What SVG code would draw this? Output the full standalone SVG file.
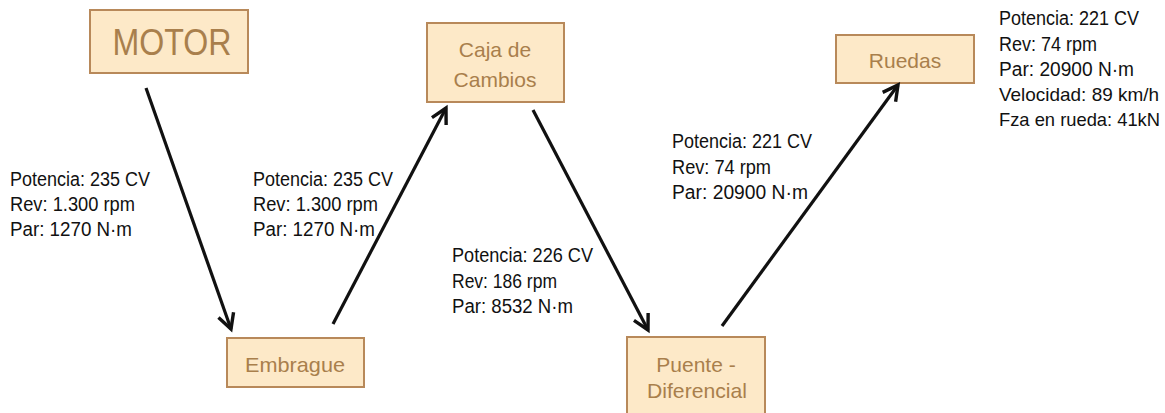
<svg xmlns="http://www.w3.org/2000/svg" width="1165" height="413" viewBox="0 0 1165 413">
<style>
.box{fill:#fde9c8;stroke:#b8895a;stroke-width:2}
.bt{font-family:"Liberation Sans",Arial,sans-serif;fill:#a97f4c;text-anchor:middle;font-size:21px}
.big{font-size:36px}
.it{font-family:"Liberation Sans",Arial,sans-serif;fill:#111;font-size:20px}
.sm{font-size:18.5px}
.con{stroke:#111;stroke-width:3.2;fill:none;marker-end:url(#ah)}
</style>
<defs>
<marker id="ah" markerUnits="userSpaceOnUse" markerWidth="24" markerHeight="24" viewBox="-20 -10 24 20" refX="0" refY="0" orient="auto">
<path d="M-15,-8 L0,0 L-15,8" fill="none" stroke="#111" stroke-width="3.4" stroke-linejoin="miter"/>
</marker>
</defs>
<rect width="1165" height="413" fill="#fff"/>
<g id="motor">
<rect class="box" x="90" y="10" width="158" height="63"/>
<text class="bt big" x="172" y="55" textLength="119" lengthAdjust="spacingAndGlyphs">MOTOR</text>
</g>
<g id="embrague">
<rect class="box" x="227" y="338" width="137" height="49"/>
<text class="bt" x="295" y="372" textLength="100" lengthAdjust="spacingAndGlyphs">Embrague</text>
</g>
<g id="caja">
<rect class="box" x="427" y="23" width="137" height="79"/>
<text class="bt" x="495" y="57">Caja de</text>
<text class="bt" x="495" y="87">Cambios</text>
</g>
<g id="puente">
<rect class="box" x="627" y="337" width="138" height="86"/>
<text class="bt" x="696" y="372">Puente -</text>
<text class="bt" x="697" y="398" textLength="100" lengthAdjust="spacingAndGlyphs">Diferencial</text>
</g>
<g id="ruedas">
<rect class="box" x="836" y="35" width="138" height="48"/>
<text class="bt" x="905" y="68">Ruedas</text>
</g>
<g id="connectors">
<line class="con" x1="146" y1="88" x2="231" y2="329"/>
<line class="con" x1="333" y1="324" x2="446" y2="108"/>
<line class="con" x1="533" y1="110" x2="648" y2="330"/>
<line class="con" x1="722" y1="326" x2="898" y2="85"/>
</g>
<g id="labels">
<text class="it" x="10" y="186" textLength="140" lengthAdjust="spacingAndGlyphs">Potencia: 235 CV</text>
<text class="it" x="10" y="211" textLength="125" lengthAdjust="spacingAndGlyphs">Rev: 1.300 rpm</text>
<text class="it" x="10" y="236" textLength="122" lengthAdjust="spacingAndGlyphs">Par: 1270 N·m</text>
<text class="it" x="253" y="186" textLength="140" lengthAdjust="spacingAndGlyphs">Potencia: 235 CV</text>
<text class="it" x="253" y="211" textLength="125" lengthAdjust="spacingAndGlyphs">Rev: 1.300 rpm</text>
<text class="it" x="253" y="236" textLength="122" lengthAdjust="spacingAndGlyphs">Par: 1270 N·m</text>
<text class="it" x="452" y="262" textLength="141" lengthAdjust="spacingAndGlyphs">Potencia: 226 CV</text>
<text class="it" x="452" y="288" textLength="105" lengthAdjust="spacingAndGlyphs">Rev: 186 rpm</text>
<text class="it" x="452" y="313" textLength="121" lengthAdjust="spacingAndGlyphs">Par: 8532 N·m</text>
<text class="it" x="672" y="148" textLength="140" lengthAdjust="spacingAndGlyphs">Potencia: 221 CV</text>
<text class="it" x="672" y="174" textLength="99" lengthAdjust="spacingAndGlyphs">Rev: 74 rpm</text>
<text class="it" x="672" y="199" textLength="136" lengthAdjust="spacingAndGlyphs">Par: 20900 N·m</text>
<text class="it" x="999" y="25" textLength="140" lengthAdjust="spacingAndGlyphs">Potencia: 221 CV</text>
<text class="it" x="999" y="51" textLength="98" lengthAdjust="spacingAndGlyphs">Rev: 74 rpm</text>
<text class="it" x="999" y="76" textLength="135" lengthAdjust="spacingAndGlyphs">Par: 20900 N·m</text>
<text class="it sm" x="999" y="101" textLength="160" lengthAdjust="spacingAndGlyphs">Velocidad: 89 km/h</text>
<text class="it sm" x="999" y="126" textLength="161" lengthAdjust="spacingAndGlyphs">Fza en rueda: 41kN</text>
</g>
</svg>
